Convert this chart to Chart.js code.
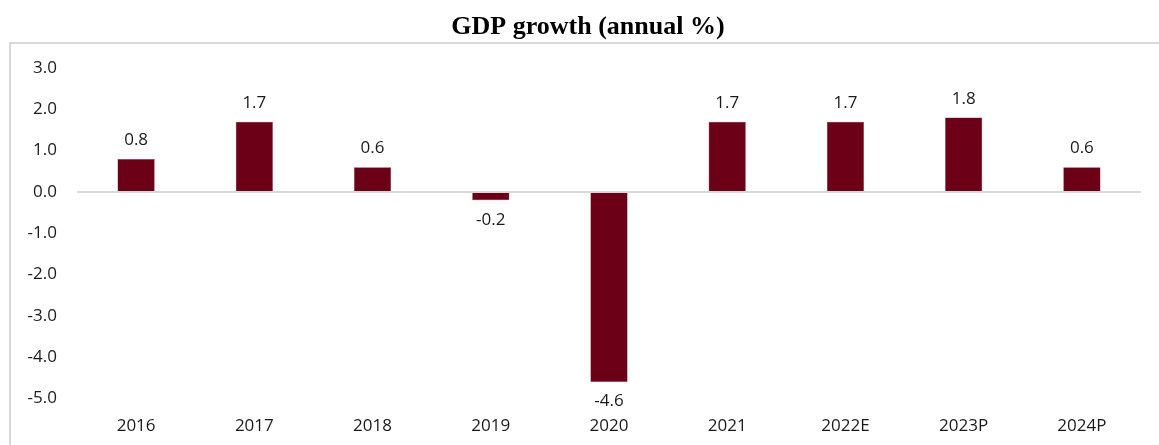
<!DOCTYPE html>
<html>
<head>
<meta charset="utf-8">
<script src="https://cdn.jsdelivr.net/npm/chart.js@4.4.0/dist/chart.umd.min.js"></script>
<style>
  html, body { margin: 0; padding: 0; background: #fff; }
  #wrap { width: 1159px; height: 445px; }
</style>
</head>
<body>
<div id="wrap"><canvas id="gdpChart"></canvas></div>
<script>
const years = ['2016', '2017', '2018', '2019', '2020', '2021', '2022E', '2023P', '2024P'];
const growth = [0.8, 1.7, 0.6, -0.2, -4.6, 1.7, 1.7, 1.8, 0.6];
const yTicks = [3, 2, 1, 0, -1, -2, -3, -4, -5];

const barColor = '#6b0016';
const labelFont = '"Open Sans", sans-serif';

// frame + title, like the excel chart box
const frame = {
  id: 'frame',
  beforeDraw(chart) {
    const c = chart.ctx;
    c.save();
    c.strokeStyle = '#d9d9d9';
    c.lineWidth = 2;
    c.strokeRect(10, 43, 1160, 420);
    c.fillStyle = '#000';
    c.font = 'bold 26px "Liberation Serif", "Times New Roman", serif';
    c.textAlign = 'center';
    c.textBaseline = 'middle';
    c.fillText('GDP growth (annual %)', 588, 27);
    c.restore();
  }
};

// zero line + value labels
const valueLabels = {
  id: 'valueLabels',
  afterDatasetsDraw(chart) {
    const c = chart.ctx;
    const y0 = chart.scales.y.getPixelForValue(0);
    c.save();
    c.strokeStyle = '#d9d9d9';
    c.lineWidth = 2;
    c.beginPath();
    c.moveTo(chart.chartArea.left, y0);
    c.lineTo(chart.chartArea.right, y0);
    c.stroke();

    c.fillStyle = '#1a1a1a';
    c.font = '17px ' + labelFont;
    c.textAlign = 'center';
    chart.getDatasetMeta(0).data.forEach((bar, i) => {
      const v = growth[i];
      if (v >= 0) {
        c.textBaseline = 'bottom';
        c.fillText(v.toFixed(1), bar.x, bar.y - 10);
      } else {
        c.textBaseline = 'top';
        c.fillText(v.toFixed(1), bar.x, bar.y + 11);
      }
    });
    c.restore();
  }
};

new Chart(document.getElementById('gdpChart'), {
  type: 'bar',
  data: {
    labels: years,
    datasets: [{
      data: growth,
      backgroundColor: barColor,
      borderColor: '#8a3a48',
      borderWidth: 0.5,
      categoryPercentage: 1,
      barPercentage: 0.315
    }]
  },
  options: {
    responsive: true,
    maintainAspectRatio: false,
    animation: false,
    layout: { padding: { left: 0, right: 18, top: 68, bottom: 0 } },
    plugins: {
      legend: { display: false },
      tooltip: { enabled: false }
    },
    scales: {
      x: {
        grid: { display: false, drawTicks: false },
        border: { display: false },
        ticks: {
          color: '#1a1a1a',
          font: { family: labelFont, size: 17 },
          padding: 17,
          maxRotation: 0
        },
        afterFit: (s) => { s.height = 46.5; }
      },
      y: {
        min: -5,
        max: 3,
        grid: { display: false, drawTicks: false },
        border: { display: false },
        afterBuildTicks: (s) => { s.ticks = yTicks.map(v => ({ value: v })); },
        afterFit: (s) => { s.width = 77; },
        ticks: {
          color: '#1a1a1a',
          font: { family: labelFont, size: 17 },
          padding: 20,
          callback: (v) => Number(v).toFixed(1)
        }
      }
    }
  },
  plugins: [frame, valueLabels]
});
</script>
</body>
</html>
